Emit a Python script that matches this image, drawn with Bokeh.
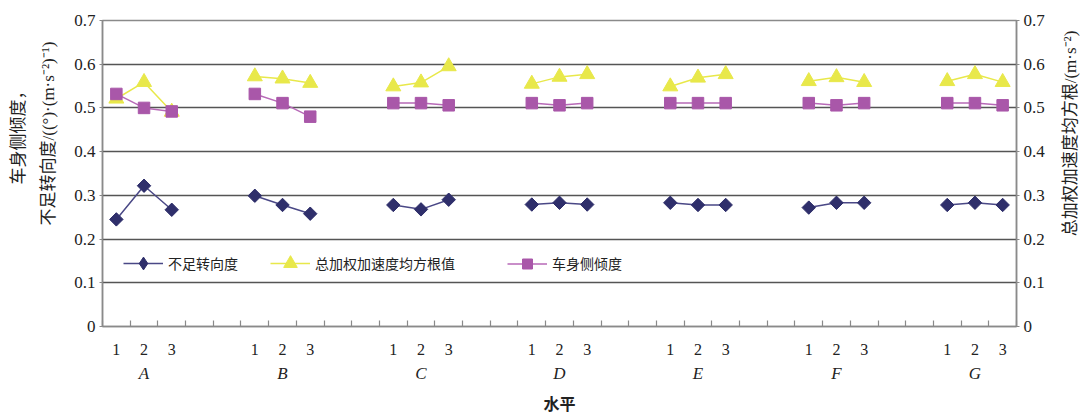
import numpy as np
from bokeh.plotting import figure
from bokeh.layouts import row
from bokeh.models import (Range1d, LinearAxis, FixedTicker, Legend, LegendItem,
                          ColumnDataSource, Grid, Label)
from bokeh.embed import file_html
from bokeh.resources import INLINE

# ---------------- data ----------------
factors = ["A", "B", "C", "D", "E", "F", "G"]
levels = ["1", "2", "3"]

understeer = [0.245, 0.322, 0.267,
              0.299, 0.278, 0.258,
              0.278, 0.268, 0.290,
              0.279, 0.283, 0.279,
              0.283, 0.278, 0.278,
              0.272, 0.283, 0.283,
              0.278, 0.283, 0.278]

rms_accel = [0.521, 0.559, 0.491,
             0.572, 0.567, 0.557,
             0.549, 0.558, 0.595,
             0.555, 0.571, 0.577,
             0.549, 0.569, 0.577,
             0.561, 0.570, 0.559,
             0.561, 0.577, 0.559]

body_roll = [0.532, 0.500, 0.492,
             0.532, 0.511, 0.480,
             0.511, 0.511, 0.506,
             0.511, 0.506, 0.511,
             0.511, 0.511, 0.511,
             0.511, 0.506, 0.511,
             0.511, 0.511, 0.506]

series_names = ["不足转向度", "总加权加速度均方根值", "车身侧倾度"]
y_ticks = [0, 0.1, 0.2, 0.3, 0.4, 0.5, 0.6, 0.7]
left_title = ["车身侧倾度，", "不足转向度/((°)·(m·s⁻²)⁻¹)"]
right_title = "总加权加速度均方根/(m·s⁻²)"
x_title = "水平"

# ---------------- layout helpers ----------------
SLOTS_PER_GROUP = 5
N_SLOTS = SLOTS_PER_GROUP * (len(factors) - 1) + len(levels)   # 33 category slots


def xpos(g, l):
    # half-slot units: slot centres are odd numbers, slot boundaries even
    return 2 * (SLOTS_PER_GROUP * g + l) + 1


xs = [xpos(g, l) for g in range(len(factors)) for l in range(len(levels))]


def with_gaps(vals):
    lx, ly = [], []
    for g in range(len(factors)):
        for l in range(len(levels)):
            lx.append(xs[g * len(levels) + l])
            ly.append(vals[g * len(levels) + l])
        lx.append(np.nan)
        ly.append(np.nan)
    return lx, ly


SERIF = "Liberation Serif"
CJK = "Noto Sans CJK SC"
MIXED = "Liberation Serif, Noto Sans CJK SC"
TXT = "#222222"
AX = "#8a8a8a"
H = 417
LEFT_W = 60
RIGHT_W = 24
MAIN_W = 1083 - LEFT_W - RIGHT_W

p = figure(width=MAIN_W, height=H,
           x_range=Range1d(0, 2 * N_SLOTS), y_range=Range1d(0, 0.7),
           x_axis_type=None, y_axis_type=None,
           output_backend="svg", toolbar_location=None,
           min_border_left=102 - LEFT_W, min_border_right=(1083 - RIGHT_W) - 1016,
           min_border_top=20, min_border_bottom=89)
p.outline_line_color = AX
p.outline_line_width = 1.5
p.background_fill_color = "white"
p.border_fill_color = "white"

grid = Grid(dimension=1, ticker=FixedTicker(ticks=y_ticks),
            grid_line_color="#555555", grid_line_width=1.5)
p.add_layout(grid)


def make_yaxis():
    return LinearAxis(ticker=FixedTicker(ticks=y_ticks, minor_ticks=[]),
                      major_label_overrides={0: "0"},
                      axis_line_color=AX, axis_line_width=1.5,
                      major_tick_line_color=AX, major_tick_in=0, major_tick_out=3,
                      major_label_text_font=SERIF, major_label_text_font_size="17px",
                      major_label_text_color=TXT, major_label_standoff=4)


p.add_layout(make_yaxis(), "left")
p.add_layout(make_yaxis(), "right")

boundaries = list(range(0, 2 * N_SLOTS + 1, 2))
x_over = {xs[g * 3 + l]: levels[l] for g in range(len(factors)) for l in range(len(levels))}
xa1 = LinearAxis(ticker=FixedTicker(ticks=xs, minor_ticks=boundaries),
                 major_label_overrides=x_over,
                 axis_line_color=AX, axis_line_width=1.5,
                 major_tick_in=0, major_tick_out=0,
                 minor_tick_line_color=AX, minor_tick_line_width=1.2,
                 minor_tick_in=6, minor_tick_out=0,
                 major_label_text_font=SERIF, major_label_text_font_size="16px",
                 major_label_text_color=TXT, major_label_standoff=17)
p.add_layout(xa1, "below")

g_ticks = [xpos(g, 1) for g in range(len(factors))]
xa2 = LinearAxis(ticker=FixedTicker(ticks=g_ticks, minor_ticks=[]),
                 major_label_overrides={t: f for t, f in zip(g_ticks, factors)},
                 axis_line_color=None, major_tick_in=0, major_tick_out=0,
                 major_label_text_font=SERIF, major_label_text_font_size="17px",
                 major_label_text_font_style="italic",
                 major_label_text_color=TXT, major_label_standoff=6,
                 axis_label=x_title, axis_label_text_font=CJK,
                 axis_label_text_font_size="16px", axis_label_text_font_style="bold",
                 axis_label_text_color=TXT, axis_label_standoff=5)
p.add_layout(xa2, "below")

# ---------------- series ----------------
C_US, C_US_LINE = "#2f2f6b", "#4a4886"
C_RMS = "#e8e84a"
C_ROLL, C_ROLL_LINE = "#a957a9", "#b769b7"

src = ColumnDataSource(dict(x=xs, us=understeer, rms=rms_accel, roll=body_roll))

# understeer: diamonds (rotated squares); an unrotated diamond underneath serves the legend
lx, ly = with_gaps(understeer)
us_line = p.line(lx, ly, line_color=C_US_LINE, line_width=1.5)
us_leg = p.scatter("x", "us", source=src, marker="diamond", size=12,
                   fill_color=C_US, line_color=C_US)
p.scatter("x", "us", source=src, marker="square", size=9.5, angle=np.pi / 4,
          fill_color=C_US, line_color=C_US)

lx, ly = with_gaps(rms_accel)
rms_line = p.line(lx, ly, line_color=C_RMS, line_width=1.5)
rms_pts = p.scatter("x", "rms", source=src, marker="triangle", size=15,
                    fill_color=C_RMS, line_color=C_RMS)

lx, ly = with_gaps(body_roll)
roll_line = p.line(lx, ly, line_color=C_ROLL_LINE, line_width=1.5)
roll_pts = p.scatter("x", "roll", source=src, marker="square", size=11.5,
                     fill_color=C_ROLL, line_color=C_ROLL)

legend_specs = [
    (series_names[0], [us_line, us_leg], 21, 32),
    (series_names[1], [rms_line, rms_pts], 168, 34),
    (series_names[2], [roll_line, roll_pts], 405, 25),
]
ROW_CENTER = 62.7
for name, rends, lxp, gh in legend_specs:
    lg = Legend(items=[LegendItem(label=name, renderers=rends)],
                location=(lxp, ROW_CENTER - gh / 2), orientation="horizontal",
                padding=0, margin=0, spacing=0,
                border_line_color=None, background_fill_alpha=0,
                glyph_width=40, glyph_height=gh, label_standoff=5,
                label_text_font=CJK, label_text_font_size="14px",
                label_text_color=TXT, label_height=gh,
                label_text_baseline="middle")
    p.add_layout(lg, "center")


# ---------------- axis titles (side strips) ----------------
def strip(width):
    f = figure(width=width, height=H, x_range=Range1d(0, width), y_range=Range1d(0, H),
               x_axis_type=None, y_axis_type=None, output_backend="svg",
               toolbar_location=None, min_border=0)
    f.outline_line_color = None
    f.grid.visible = False
    f.background_fill_color = "white"
    f.border_fill_color = "white"
    return f


TITLE_CY = H - 154
left = strip(LEFT_W)
for txt, cx in zip(left_title, [18, 48]):
    left.add_layout(Label(x=cx, y=TITLE_CY, text=txt, angle=np.pi / 2,
                          text_align="center", text_baseline="middle",
                          text_font=MIXED, text_font_size="17px", text_color=TXT))

right = strip(RIGHT_W)
right.add_layout(Label(x=1070 - (1083 - RIGHT_W), y=TITLE_CY, text=right_title, angle=np.pi / 2,
                       text_align="center", text_baseline="middle",
                       text_font=MIXED, text_font_size="17px", text_color=TXT))

layout = row(left, p, right, spacing=0)
open("out.html", "w").write(file_html(layout, INLINE))
